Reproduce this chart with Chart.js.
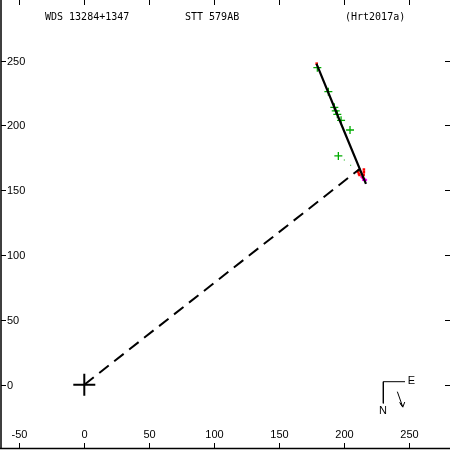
<!DOCTYPE html>
<html>
<head>
<meta charset="utf-8">
<script src="https://cdn.jsdelivr.net/npm/chart.js@4"></script>
<style>
  html, body { margin: 0; padding: 0; background: #fff; }
  canvas { display: block; }
</style>
</head>
<body>
<canvas id="orbitChart" width="450" height="450"></canvas>
<script>
// axis ticks
const xTicks = [-50, 0, 50, 100, 150, 200, 250];
const yTicks = [0, 50, 100, 150, 200, 250];

// computed orbit (nearly edge-on)
const orbitX = [179.1, 198.0, 217.2];
const orbitY = [247.5, 201.3, 154.9];

// line from primary to orbit
const nodeX = [0, 212.8];
const nodeY = [0, 166.8];

// visual observations (green crosses)
const obsX = [179.7, 188.2, 192.8, 193.9, 195.1, 198.0, 204.9, 195.9];
const obsY = [244.6, 226.1, 214.0, 211.2, 208.6, 204.0, 196.5, 176.5];

// small green dots
const dotX = [200.5, 205.4, 211.5, 212.8, 214.2];
const dotY = [173.4, 169.3, 165.0, 163.6, 161.2];

// red points (speckle)
const redX = [179.2, 211.1, 211.8, 212.2, 215.6, 215.6, 215.4, 214.9, 211.6];
const redY = [247.7, 164.1, 162.6, 161.8, 166.0, 164.0, 162.0, 160.2, 165.3];

// magenta points
const magX = [213.8, 214.6, 215.6, 216.4, 217.2, 215.0];
const magY = [160.4, 159.6, 158.7, 158.3, 157.9, 158.0];

// compass
const compassX = [247.3, 230.6, 230.6];
const compassY = [2.3, 2.3, -14.4];
const arrowX = [241.4, 245.6, 243.3, 245.6, 247.1];
const arrowY = [-5.4, -17.3, -13.8, -17.3, -13.4];

const pts = (xs, ys) => xs.map((x, i) => ({ x: x, y: ys[i] }));

const framePlugin = {
    id: 'frame',
    afterDraw(chart) {
        const ctx = chart.ctx;
        const xs = chart.scales.x, ys = chart.scales.y;
        ctx.save();
        ctx.strokeStyle = '#000';
        ctx.lineWidth = 1.5;
        ctx.beginPath();
        ctx.moveTo(1, 0); ctx.lineTo(1, 448.5);
        ctx.moveTo(0, 448.5); ctx.lineTo(450, 448.5);
        ctx.stroke();

        ctx.lineWidth = 1;
        ctx.fillStyle = '#000';
        ctx.font = '11px "Liberation Sans"';
        ctx.textAlign = 'center';
        ctx.textBaseline = 'middle';
        xTicks.forEach(v => {
            const px = Math.round(xs.getPixelForValue(v)) + 0.5;
            ctx.beginPath();
            ctx.moveTo(px, 0); ctx.lineTo(px, 5);
            ctx.moveTo(px, 443); ctx.lineTo(px, 448);
            ctx.stroke();
            ctx.fillText(String(v), px, 434.5);
        });
        ctx.textAlign = 'left';
        yTicks.forEach(v => {
            const py = Math.round(ys.getPixelForValue(v)) + 0.5;
            ctx.beginPath();
            ctx.moveTo(1, py); ctx.lineTo(6, py);
            ctx.moveTo(445, py); ctx.lineTo(450, py);
            ctx.stroke();
            ctx.fillText(String(v), 7, py);
        });

        // titles
        ctx.font = '10px "DejaVu Sans Mono"';
        ctx.fillText('WDS 13284+1347', 45, 17);
        ctx.fillText('STT 579AB', 185, 17);
        ctx.fillText('(Hrt2017a)', 345, 17);

        // compass letters
        ctx.font = '11px "Liberation Sans"';
        ctx.textAlign = 'center';
        ctx.fillText('E', xs.getPixelForValue(252.2), ys.getPixelForValue(2.8));
        ctx.fillText('N', xs.getPixelForValue(230.4), ys.getPixelForValue(-20.3));
        ctx.restore();
    }
};

new Chart(document.getElementById('orbitChart').getContext('2d'), {
    type: 'scatter',
    data: {
        datasets: [
            {
                data: pts(nodeX, nodeY),
                showLine: true,
                borderColor: '#000',
                borderWidth: 2,
                borderDash: [12, 7],
                pointRadius: 0
            },
            {
                data: pts(orbitX, orbitY),
                showLine: true,
                borderColor: '#000',
                borderWidth: 2.2,
                pointRadius: 0
            },
            {
                data: pts(obsX, obsY),
                pointStyle: 'cross',
                pointRadius: 4,
                borderColor: '#00aa00',
                borderWidth: 1.3
            },
            {
                data: pts(dotX, dotY),
                pointStyle: 'rect',
                pointRadius: 0.7,
                borderWidth: 0,
                backgroundColor: '#00aa00'
            },
            {
                data: pts(redX, redY),
                pointStyle: 'rect',
                pointRadius: 1.8,
                borderWidth: 0,
                backgroundColor: '#ff0000'
            },
            {
                data: pts(magX, magY),
                pointStyle: 'rect',
                pointRadius: 1.6,
                borderWidth: 0,
                backgroundColor: '#ff00ff'
            },
            {
                data: [{ x: 0, y: 0 }],
                pointStyle: 'cross',
                pointRadius: 11,
                borderColor: '#000',
                borderWidth: 2
            },
            {
                data: pts(compassX, compassY),
                showLine: true,
                borderColor: '#000',
                borderWidth: 1,
                pointRadius: 0
            },
            {
                data: pts(arrowX, arrowY),
                showLine: true,
                borderColor: '#000',
                borderWidth: 1,
                pointRadius: 0
            }
        ]
    },
    options: {
        responsive: false,
        animation: false,
        devicePixelRatio: 1,
        layout: { padding: 0, autoPadding: false },
        plugins: {
            legend: { display: false },
            tooltip: { enabled: false }
        },
        scales: {
            x: { type: 'linear', display: false, min: -65.0, max: 282.0 },
            y: { type: 'linear', display: false, min: -50.4, max: 296.8 }
        }
    },
    plugins: [framePlugin]
});
</script>
</body>
</html>
